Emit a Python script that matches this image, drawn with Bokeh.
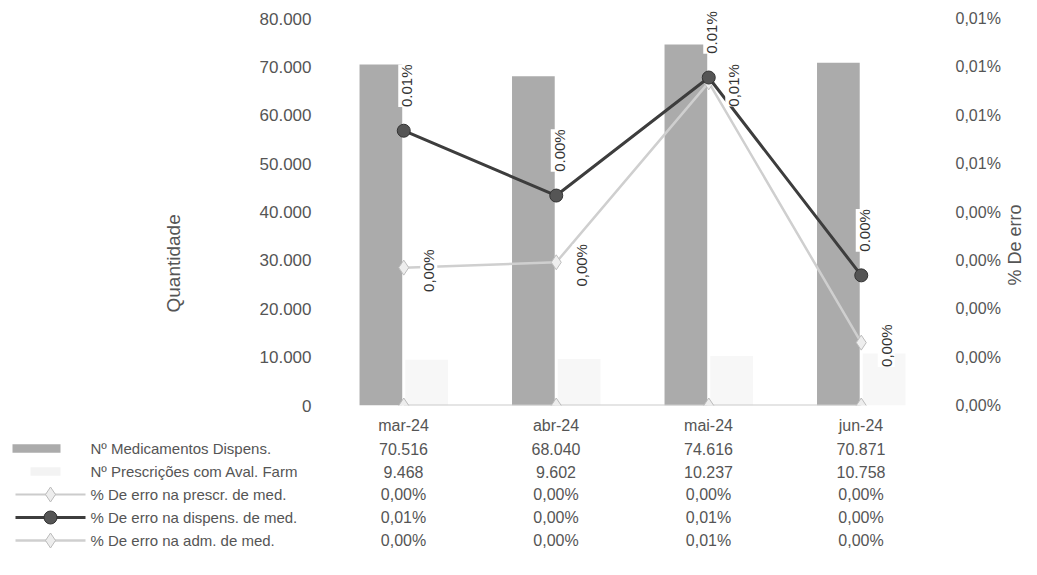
import math
import json
from bokeh.plotting import figure
from bokeh.models import (Range1d, LinearAxis, ColumnDataSource, LabelSet, Title,
                          CustomJSTickFormatter, FixedTicker, FactorRange)
from bokeh.transform import dodge
from bokeh.core.properties import value
from bokeh.embed import file_html
from bokeh.resources import INLINE

# ---------------- data ----------------
categories = ["mar-24", "abr-24", "mai-24", "jun-24"]
medicamentos = [70516, 68040, 74616, 70871]          # Nº Medicamentos Dispens.
prescricoes = [9468, 9602, 10237, 10758]             # Nº Prescrições com Aval. Farm
erro_prescr = [0.0, 0.0, 0.0, 0.0]                   # % De erro na prescr. de med.
erro_dispens = [0.00568, 0.00434, 0.00678, 0.00269]  # % De erro na dispens. de med.
erro_adm = [0.00285, 0.00296, 0.00668, 0.00130]      # % De erro na adm. de med.
series_names = ["Nº Medicamentos Dispens.", "Nº Prescrições com Aval. Farm",
                "% De erro na prescr. de med.", "% De erro na dispens. de med.",
                "% De erro na adm. de med."]
left_ticks = [0, 10000, 20000, 30000, 40000, 50000, 60000, 70000, 80000]
right_ticks = [0, 0.001, 0.002, 0.003, 0.004, 0.005, 0.006, 0.007, 0.008]
left_title = "Quantidade"
right_title = "% De erro"

FONT = "Liberation Sans"
TXT = "#555555"


def fmt_int(v):
    return f"{v:,}".replace(",", ".")


def fmt_pct(v, sep=","):
    return f"{v:.2f}".replace(".", sep) + "%"


src = ColumnDataSource(dict(
    cat=categories, med=medicamentos, presc=prescricoes,
    eprescr=erro_prescr, edisp=erro_dispens, eadm=erro_adm,
    disp_lbl=[fmt_pct(v, ".") for v in erro_dispens],
    adm_lbl=[fmt_pct(v, ",") for v in erro_adm],
))

# ---------------- chart ----------------
W = 1037
TOP, BOT = 8, 405          # frame top / bottom on the page
TICK_TOP = 18              # where the last tick sits
head = (BOT - TOP) / (BOT - TICK_TOP)
p = figure(x_range=FactorRange(*categories),
           y_range=Range1d(0, left_ticks[-1] * head),
           width=W, height=BOT + 10, output_backend="svg", toolbar_location=None,
           min_border_left=327, min_border_right=W - 937, min_border_top=TOP,
           min_border_bottom=10, x_axis_location=None, y_axis_location="left")
p.outline_line_color = None
p.grid.visible = False
p.x_range.range_padding = 0


def style_axis(ax, size, standoff):
    ax.axis_line_color = None
    ax.major_tick_line_color = None
    ax.minor_tick_line_color = None
    ax.major_tick_out = 0
    ax.major_tick_in = 0
    ax.minor_tick_out = 0
    ax.major_label_standoff = standoff
    ax.major_label_text_font = FONT
    ax.major_label_text_font_size = size
    ax.major_label_text_color = TXT


ya = p.yaxis[0]
ya.ticker = FixedTicker(ticks=left_ticks)
ya.formatter = CustomJSTickFormatter(
    code="return tick.toFixed(0).replace(/\\B(?=(\\d{3})+(?!\\d))/g, '.');")
style_axis(ya, "17px", 16)

p.extra_y_ranges = {"pct": Range1d(0, right_ticks[-1] * head),
                    "ttl": Range1d(0, BOT - TOP)}
ra = LinearAxis(y_range_name="pct", ticker=FixedTicker(ticks=[float(v) for v in right_ticks]),
                formatter=CustomJSTickFormatter(
                    code="return tick.toFixed(2).replace('.', ',') + '%';"))
style_axis(ra, "16px", 18)
p.add_layout(ra, "right")

# secondary-axis title (bottom-to-top, placed lower than the centre as in Excel)
ta = LinearAxis(y_range_name="ttl", ticker=FixedTicker(ticks=[BOT - 285]),
                formatter=CustomJSTickFormatter(
                    code=f"return {json.dumps(right_title)};"),
                major_label_orientation=math.pi / 2)
style_axis(ta, "18px", 11)
p.add_layout(ta, "right")

p.add_layout(Title(text=left_title, align="left", offset=93, standoff=146,
                   text_font=FONT, text_font_size="19px",
                   text_font_style="normal", text_color=TXT), "left")

# bars
p.vbar(x=dodge("cat", -0.15, range=p.x_range), top="med", width=0.28,
       source=src, fill_color="#ababab", line_color=None)
p.vbar(x=dodge("cat", 0.15, range=p.x_range), top="presc", width=0.28,
       source=src, fill_color="#f7f7f7", line_color=None)

# lines
p.line(x="cat", y="eprescr", y_range_name="pct", source=src,
       line_color="#cccccc", line_width=2)
p.scatter(x="cat", y="eprescr", y_range_name="pct", source=src, marker="diamond",
          size=15, fill_color="#ededed", line_color="#bbbbbb", line_width=1)

p.line(x="cat", y="eadm", y_range_name="pct", source=src,
       line_color="#cfcfcf", line_width=2.5)
p.scatter(x="cat", y="eadm", y_range_name="pct", source=src, marker="diamond",
          size=15, fill_color="#eeeeee", line_color="#bdbdbd", line_width=1)

p.line(x="cat", y="edisp", y_range_name="pct", source=src,
       line_color="#3d3d3d", line_width=3)
p.scatter(x="cat", y="edisp", y_range_name="pct", source=src, marker="circle",
          size=13, fill_color="#555555", line_color="#333333", line_width=1)

# data labels
p.add_layout(LabelSet(x="cat", y="edisp", y_range_name="pct", text="disp_lbl",
                      source=src, angle=math.pi / 2, x_offset=3, y_offset=45,
                      text_align="center", text_baseline="middle",
                      text_font=value(FONT), text_font_size="15px",
                      text_color="#333333", background_fill_color="white"))
p.add_layout(LabelSet(x="cat", y="eadm", y_range_name="pct", text="adm_lbl",
                      source=src, angle=math.pi / 2, x_offset=25, y_offset=-3,
                      text_align="center", text_baseline="middle",
                      text_font=value(FONT), text_font_size="15px",
                      text_color="#333333", background_fill_color="white"))

# ---------------- data table ----------------
TH = 575 - (BOT + 10)
ROW = 23.0
CW = 152.5   # pixel width of one category
c0 = 403.0   # page x of first category centre
x0 = 0.5 - c0 / CW
t = figure(width=W, height=TH, x_range=Range1d(x0, x0 + W / CW),
           y_range=Range1d((TH - 10) / ROW, -10 / ROW), min_border=0,
           x_axis_location=None, y_axis_location=None,
           output_backend="svg", toolbar_location=None)
t.outline_line_color = None
t.grid.visible = False

cols = [i + 0.5 for i in range(len(categories))]
rows = [categories,
        [fmt_int(v) for v in medicamentos],
        [fmt_int(v) for v in prescricoes],
        [fmt_pct(v) for v in erro_prescr],
        [fmt_pct(v) for v in erro_dispens],
        [fmt_pct(v) for v in erro_adm]]
tx, ty, tt = [], [], []
for r, row in enumerate(rows):
    for c, s in zip(cols, row):
        tx.append(c)
        ty.append(r)
        tt.append(s)
t.text(x=tx, y=ty, text=tt, text_align="center", text_baseline="middle",
       text_font=value(FONT), text_font_size="16px", text_color=TXT)


def px(x):
    return (x - c0) / CW + 0.5


# legend keys
t.rect(x=[px(36)], y=[1], width=48 / CW, height=0.38,
       fill_color="#ababab", line_color=None)
t.rect(x=[px(45)], y=[2], width=30 / CW, height=0.38,
       fill_color="#f3f3f3", line_color=None)
t.segment(x0=[px(15)] * 3, y0=[3, 4, 5], x1=[px(85)] * 3, y1=[3, 4, 5],
          line_color=["#cccccc", "#3d3d3d", "#cfcfcf"], line_width=[2, 3, 2.5])
t.scatter(x=[px(50), px(50)], y=[3, 5], marker="diamond", size=15,
          fill_color="#ededed", line_color="#bbbbbb")
t.scatter(x=[px(50)], y=[4], marker="circle", size=13,
          fill_color="#555555", line_color="#333333")
t.text(x=[px(90)] * 5, y=[1, 2, 3, 4, 5], text=series_names,
       text_align="left", text_baseline="middle",
       text_font=value(FONT), text_font_size="15px", text_color=TXT)

open("out.html", "w").write(file_html([p, t], INLINE))
